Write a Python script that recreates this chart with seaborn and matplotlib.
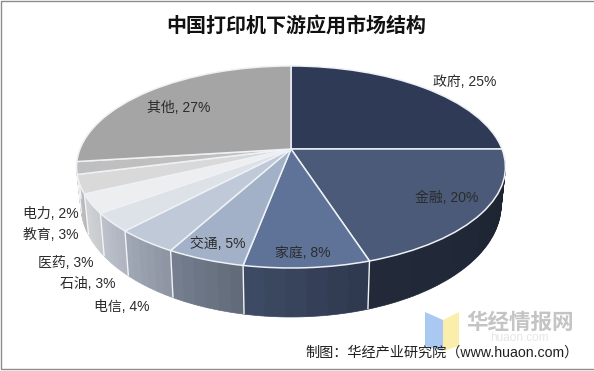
import numpy as np
import matplotlib
matplotlib.use("Agg")
import matplotlib.pyplot as plt
from matplotlib.transforms import Transform
import seaborn as sns

categories = ["政府", "金融", "家庭", "交通", "电信", "石油", "医药", "教育", "电力", "其他"]
values = [25, 20, 8, 5, 4, 3, 3, 3, 2, 27]
top_colors = ["#2f3a56", "#4a5a78", "#5f7399", "#a3b1c8", "#bfc9d7", "#dde2e9",
              "#eceeef", "#d9d9d9", "#bfbfbf", "#a5a5a5"]
wall_right = ["#1c2330", "#1c2330", "#2f3a50", "#626b7a", "#8e95a3", "#b0b5c1",
              "#c8cbce", "#b8b8b8", "#9a9a9a", "#8a8a8a"]
wall_left = ["#1c2330", "#222a3a", "#3d4a63", "#757e8e", "#a0a7b4", "#bcc1cc",
             "#d2d4d7", "#c8c8c8", "#a8a8a8", "#8a8a8a"]
label_centers = [(465, 82), (447, 198), (303, 253), (218, 244), (122, 307),
                 (88, 284), (66, 263), (51, 235), (51, 214), (179, 108)]

title = "中国打印机下游应用市场结构"
source = "制图：华经产业研究院（www.huaon.com）"
brand = "华经情报网"
brand_url = "huaon.com"


class Projection(Transform):
    """Tilted-disc perspective; f = 0 on the top face, f = 1 on the base."""
    input_dims = output_dims = 2
    is_separable = False
    has_inverse = False

    def __init__(self, f=0.0):
        super().__init__()
        self.f = f

    def transform_non_affine(self, values):
        v = np.asarray(values, dtype=float)
        x, y = v[:, 0], v[:, 1]
        w = 1 + 0.178 * y
        X = 211 * x / w
        Y = 97.8 * y / w
        py = 149 - Y
        depth = (49 - 0.11 * (268 - py)) * self.f
        return np.column_stack([291 + X * (1 - 0.02 * self.f), py + depth])


sns.set_theme(style="white")
plt.rcParams["font.family"] = ["Liberation Sans", "Noto Sans CJK SC", "DejaVu Sans"]

fig = plt.figure(figsize=(5.94, 3.71), dpi=100, facecolor="white")
ax = fig.add_axes([0, 0, 1, 1])

# side wall: stacked pies from the base upward, each slice with a soft gradient
n_sub = 6
sub_values = [v / n_sub for v in values for _ in range(n_sub)]
sub_colors = []
for c_r, c_l in zip(wall_right, wall_left):
    sub_colors += list(sns.blend_palette([c_r, c_l], n_sub))
layers = 50
for k in range(layers, 0, -1):
    wedges, _ = ax.pie(sub_values, colors=sub_colors, startangle=90, counterclock=False,
                       wedgeprops={"linewidth": 0.5})
    tr = Projection(k / layers) + ax.transData
    for wd, col in zip(wedges, sub_colors):
        wd.set_edgecolor(col)
        wd.set_transform(tr)

# white separators on the wall, at the slice boundaries on the near side
edges = 90 - 3.6 * np.cumsum(values)
for a in edges:
    if -175 < a < -5:
        c, s = np.cos(np.radians(a)), np.sin(np.radians(a))
        pts = np.vstack([Projection(f).transform_non_affine(np.array([[c, s]])) for f in (0.0, 1.0)])
        ax.plot(pts[:, 0], pts[:, 1], color="#f2f4f7", lw=1.0, zorder=3, solid_capstyle="butt")

# top face
wedges, _ = ax.pie(values, colors=top_colors, startangle=90, counterclock=False,
                   wedgeprops={"linewidth": 1.1, "edgecolor": "#eef1f5"})
tr = Projection(0.0) + ax.transData
for wd in wedges:
    wd.set_transform(tr)
    wd.set_zorder(4)

ax.set_aspect("auto")
ax.set_xlim(0, 594)
ax.set_ylim(371, 0)
ax.axis("off")

for cat, val, (lx, ly) in zip(categories, values, label_centers):
    ax.text(lx, ly, f"{cat}, {val}%", ha="center", va="center", fontsize=10,
            color="#2b2b2b", zorder=6)

ax.text(296.5, 26, title, ha="center", va="center", fontsize=14.4, fontweight="bold",
        color="#111111", zorder=6)

# watermark
ax.fill([425, 443, 443, 425], [312, 320, 351, 346], color="#a9c9f2", lw=0, zorder=1)
ax.fill([443, 459, 459, 443], [320, 312, 346, 351], color="#fbeeaa", lw=0, zorder=1)
ax.text(520, 323, brand, ha="center", va="center", fontsize=15.5, fontweight="bold",
        color="#c4c4c4", zorder=1)
ax.text(519, 338, brand_url, ha="center", va="center", fontsize=8.5, color="#e6e6e6", zorder=1)
ax.text(442, 353, source, ha="center", va="center", fontsize=10.2, color="#1f1f1f", zorder=6)

# picture frame
frame = "#8c8c8c"
ax.plot([593, 1, 1, 593], [1, 1, 369, 369], color=frame, lw=1.0, zorder=7)

fig.savefig("out.png", dpi=100, facecolor="white")
